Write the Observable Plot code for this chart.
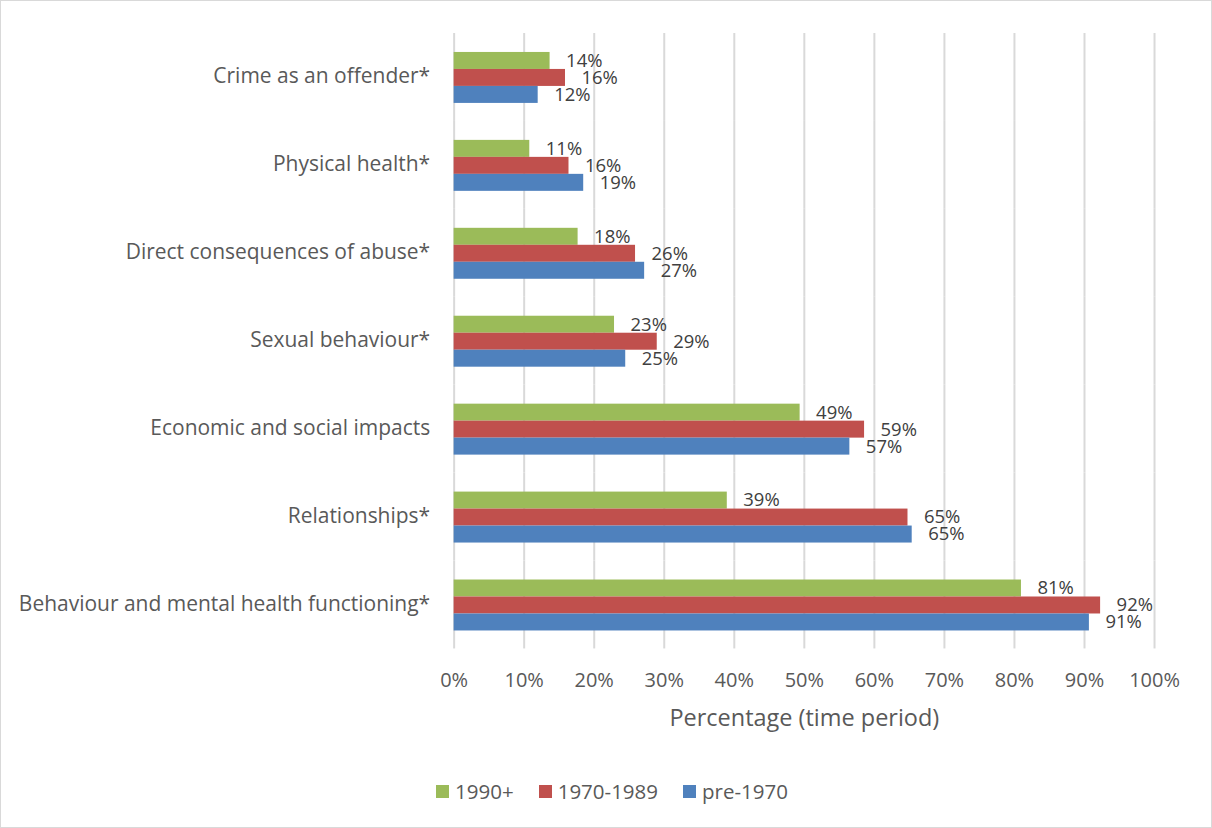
<!DOCTYPE html>
<html>
<head>
<meta charset="utf-8">
<script src="https://cdn.jsdelivr.net/npm/d3@7"></script>
<script src="https://cdn.jsdelivr.net/npm/@observablehq/plot@0.6"></script>
<style>
  html, body { margin: 0; padding: 0; background: #fff; }
  #frame { position: relative; width: 1212px; height: 828px; box-sizing: border-box; border: 1px solid #d9d9d9; overflow: hidden; font-family: "Open Sans", sans-serif; }
  #chart { position: absolute; left: -1px; top: -1px; }
  #legend { position: absolute; left: 0; top: 776px; width: 1212px; display: flex; justify-content: center; align-items: center; padding-left: 10px; box-sizing: border-box; font-size: 20.5px; color: #595959; }
  .item { display: flex; align-items: center; margin: 0 12.5px; }
  .sw { width: 13px; height: 13px; margin-right: 6px; }
</style>
</head>
<body>
<div id="frame">
  <div id="chart"></div>
  <div id="legend"></div>
</div>
<script>
const categories = [
  "Crime as an offender*",
  "Physical health*",
  "Direct consequences of abuse*",
  "Sexual behaviour*",
  "Economic and social impacts",
  "Relationships*",
  "Behaviour and mental health functioning*"
];
const series = ["1990+", "1970-1989", "pre-1970"];
const colors = ["#9BBB59", "#C0504D", "#4F81BD"];
const v1990plus = [13.7, 10.8, 17.7, 22.9, 49.4, 39.0, 81.0];
const v1970to1989 = [15.9, 16.4, 25.9, 29.0, 58.6, 64.8, 92.3];
const vPre1970 = [12.0, 18.5, 27.2, 24.5, 56.5, 65.4, 90.7];
const xTicks = [0, 10, 20, 30, 40, 50, 60, 70, 80, 90, 100];
const xTitle = "Percentage (time period)";

const valuesBySeries = [v1990plus, v1970to1989, vPre1970];
const data = [];
categories.forEach((c, i) => {
  series.forEach((s, j) => {
    data.push({category: c, series: s, value: valuesBySeries[j][i]});
  });
});

const chart = Plot.plot({
  width: 1212,
  height: 740,
  marginLeft: 454,
  marginRight: 57,
  marginTop: 31,
  marginBottom: 90,
  style: {fontFamily: "Open Sans, sans-serif", background: "transparent"},
  x: {domain: [0, 100], axis: null},
  y: {domain: series, paddingInner: 0, paddingOuter: 1.04, axis: null},
  fy: {domain: categories, padding: 0, axis: null},
  color: {domain: series, range: colors},
  marks: [
    Plot.gridX(xTicks, {stroke: "#d9d9d9", strokeOpacity: 1, strokeWidth: 2}),
    Plot.barX(data, {fy: "category", y: "series", x: "value", fill: "series"}),
    Plot.text(data, {fy: "category", y: "series", x: "value", text: d => Math.round(d.value) + "%", textAnchor: "start", dx: 16, fontSize: 18.5, fill: "#404040"}),
    Plot.axisFy({anchor: "left", tickSize: 0, tickPadding: 24, fontSize: 21, color: "#595959", label: null, dy: -1}),
    Plot.axisX(xTicks, {facetAnchor: "bottom", anchor: "bottom", tickSize: 0, tickPadding: 24, fontSize: 20, color: "#595959", tickFormat: d => d + "%", label: null}),
    Plot.text([xTitle], {frameAnchor: "bottom", facetAnchor: "bottom", lineAnchor: "middle", dy: 70, fontSize: 23.5, fill: "#595959"})
  ]
});
document.getElementById("chart").appendChild(chart);

const legend = document.getElementById("legend");
series.forEach((s, j) => {
  const item = document.createElement("div");
  item.className = "item";
  const sw = document.createElement("div");
  sw.className = "sw";
  sw.style.background = colors[j];
  const t = document.createElement("span");
  t.textContent = s;
  item.appendChild(sw);
  item.appendChild(t);
  legend.appendChild(item);
});
</script>
</body>
</html>
